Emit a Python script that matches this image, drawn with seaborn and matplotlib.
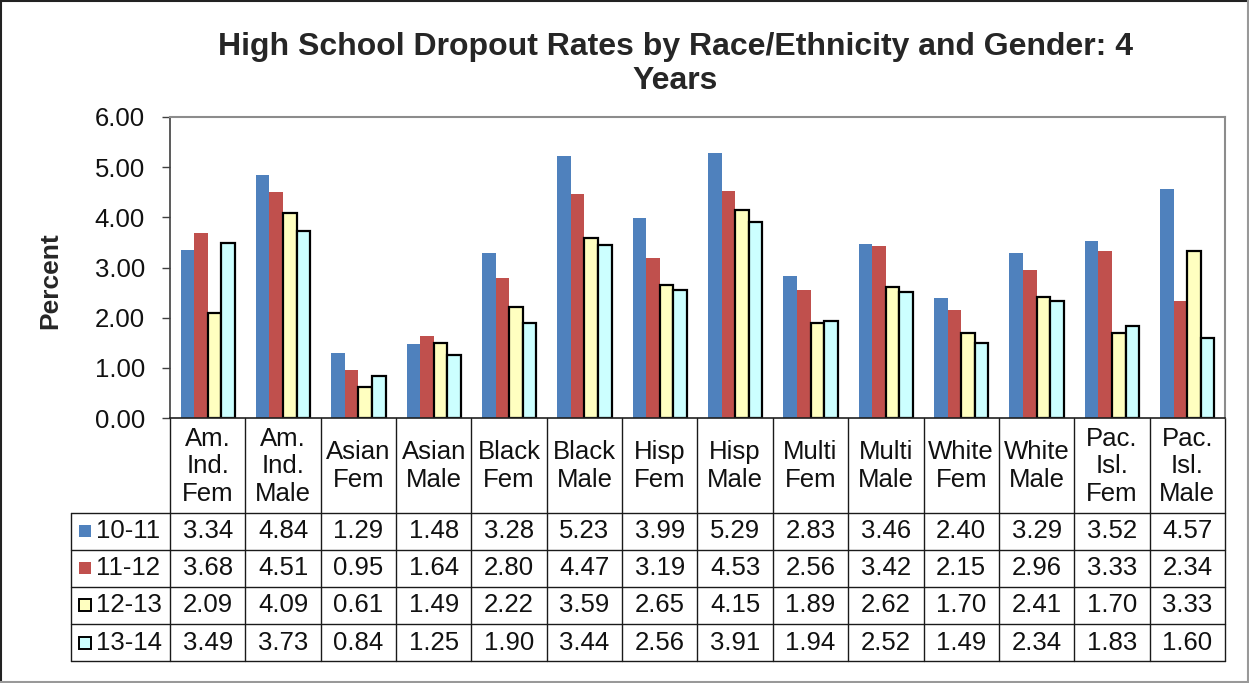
import numpy as np
import pandas as pd
import matplotlib
matplotlib.use("Agg")
import matplotlib.pyplot as plt
import matplotlib.transforms as mtransforms
from matplotlib.lines import Line2D
from matplotlib.patches import Rectangle
from matplotlib.ticker import FormatStrFormatter
import seaborn as sns

# ---- data -------------------------------------------------------------
groups = ["Am.\nInd.\nFem", "Am.\nInd.\nMale", "Asian\nFem", "Asian\nMale",
          "Black\nFem", "Black\nMale", "Hisp\nFem", "Hisp\nMale",
          "Multi\nFem", "Multi\nMale", "White\nFem", "White\nMale",
          "Pac.\nIsl.\nFem", "Pac.\nIsl.\nMale"]
years = ["10-11", "11-12", "12-13", "13-14"]
rate_10_11 = [3.34, 4.84, 1.29, 1.48, 3.28, 5.23, 3.99, 5.29, 2.83, 3.46, 2.40, 3.29, 3.52, 4.57]
rate_11_12 = [3.68, 4.51, 0.95, 1.64, 2.80, 4.47, 3.19, 4.53, 2.56, 3.42, 2.15, 2.96, 3.33, 2.34]
rate_12_13 = [2.09, 4.09, 0.61, 1.49, 2.22, 3.59, 2.65, 4.15, 1.89, 2.62, 1.70, 2.41, 1.70, 3.33]
rate_13_14 = [3.49, 3.73, 0.84, 1.25, 1.90, 3.44, 2.56, 3.91, 1.94, 2.52, 1.49, 2.34, 1.83, 1.60]
y_ticks = [0, 1, 2, 3, 4, 5, 6]

series = [rate_10_11, rate_11_12, rate_12_13, rate_13_14]
fill_colors = ["#4F81BD", "#C0504D", "#FFFFC0", "#CCFFFF"]
outlined = [False, False, True, True]

df = pd.DataFrame({
    "group": [g for s in series for g in groups],
    "year": [y for y, s in zip(years, series) for _ in s],
    "value": [v for s in series for v in s],
})

# ---- figure -----------------------------------------------------------
sns.set_style("white")
plt.rcParams["font.family"] = ["Liberation Sans", "DejaVu Sans"]
TXT = 18.5
INK = "#111111"

W, H = 1249, 683
fig = plt.figure(figsize=(W / 100, H / 100), dpi=100)
fig.patch.set_facecolor("white")


def fx(px):
    return px / W


def fy(py):
    return 1 - py / H


left, right, top, bottom = 170, 1225, 117, 418
ax = fig.add_axes([fx(left), fy(bottom), fx(right) - fx(left), fy(top) - fy(bottom)])

sns.barplot(data=df, x="group", y="value", hue="year", order=groups,
            hue_order=years, palette=fill_colors, saturation=1, width=0.72,
            errorbar=None, legend=False, ax=ax)

for cont, has_edge in zip(ax.containers, outlined):
    for bar in cont:
        if has_edge:
            bar.set_edgecolor("black")
            bar.set_linewidth(1.6)
        else:
            bar.set_linewidth(0)

ax.set_xlim(-0.5, len(groups) - 0.5)
ax.set_ylim(y_ticks[0], y_ticks[-1])
ax.set_yticks(y_ticks)
ax.yaxis.set_major_formatter(FormatStrFormatter("%.2f"))
ax.set_xticks([])
ax.set_xlabel("")
ax.set_ylabel("")
ax.tick_params(axis="y", left=True, direction="out", length=6, width=1,
               color="#404040", labelsize=TXT, pad=12, labelcolor=INK)
ax.spines["left"].set_color("#404040")
ax.spines["left"].set_linewidth(1.2)
ax.spines["bottom"].set_color("#202020")
ax.spines["bottom"].set_linewidth(1.2)
for s in ("top", "right"):
    ax.spines[s].set_color("#8c8c8c")
    ax.spines[s].set_linewidth(1.5)

# ---- data table under the plot ---------------------------------------
trans = mtransforms.blended_transform_factory(ax.transData, fig.transFigure)
col_px = (right - left) / len(groups)


def px_to_x(px):
    return -0.5 + (px - left) / col_px


header_bottom = 512.7
row_h = 37.1
row_lines = [header_bottom + i * row_h for i in range(len(years) + 1)]
table_bottom = row_lines[-1]
legend_left = px_to_x(70.7)
line_kw = dict(color="#1a1a1a", lw=1.0, transform=trans, clip_on=False)

for yl in row_lines:
    ax.add_line(Line2D([legend_left, len(groups) - 0.5], [fy(yl), fy(yl)], **line_kw))
for k in range(len(groups) + 1):
    ax.add_line(Line2D([k - 0.5, k - 0.5], [fy(bottom), fy(table_bottom)], **line_kw))
ax.add_line(Line2D([legend_left, legend_left], [fy(header_bottom), fy(table_bottom)], **line_kw))

# column headers
for i, g in enumerate(groups):
    ax.text(i, fy((bottom + header_bottom) / 2 + 1), g, transform=trans, ha="center",
            va="center", fontsize=TXT, linespacing=1.2, color=INK)

# rows with legend keys
for r, (yr, vals, col, has_edge) in enumerate(zip(years, series, fill_colors, outlined)):
    yc = header_bottom + (r + 0.5) * row_h
    key = Rectangle((px_to_x(79), fy(yc + 6)), px_to_x(91) - px_to_x(79), fy(yc - 6) - fy(yc + 6),
                    transform=trans, facecolor=col,
                    edgecolor="black" if has_edge else "none",
                    linewidth=1.4 if has_edge else 0, clip_on=False)
    ax.add_patch(key)
    ax.text(px_to_x(96), fy(yc), yr, transform=trans, ha="left", va="center",
            fontsize=TXT, color=INK)
    for i, v in enumerate(vals):
        ax.text(i, fy(yc), f"{v:.2f}", transform=trans, ha="center", va="center",
                fontsize=TXT, color=INK)

# ---- titles -----------------------------------------------------------
fig.text(fx(675), fy(64), "High School Dropout Rates by Race/Ethnicity and Gender: 4\nYears",
         ha="center", va="center", fontsize=23, fontweight="bold", linespacing=1.15)
fig.text(fx(50), fy(281), "Percent", rotation=90, ha="center", va="center",
         fontsize=19, fontweight="bold")

# outer chart frame
fig.add_artist(Line2D([0, 1], [fy(1), fy(1)], transform=fig.transFigure, color="#222222", lw=1.5))
fig.add_artist(Line2D([fx(1), fx(1)], [0, 1], transform=fig.transFigure, color="#222222", lw=1.5))
fig.add_artist(Line2D([0, 1], [fy(682), fy(682)], transform=fig.transFigure, color="#999999", lw=1.5))
fig.add_artist(Line2D([fx(1248), fx(1248)], [0, 1], transform=fig.transFigure, color="#999999", lw=1.5))

fig.savefig("out.png", dpi=100, facecolor="white")
